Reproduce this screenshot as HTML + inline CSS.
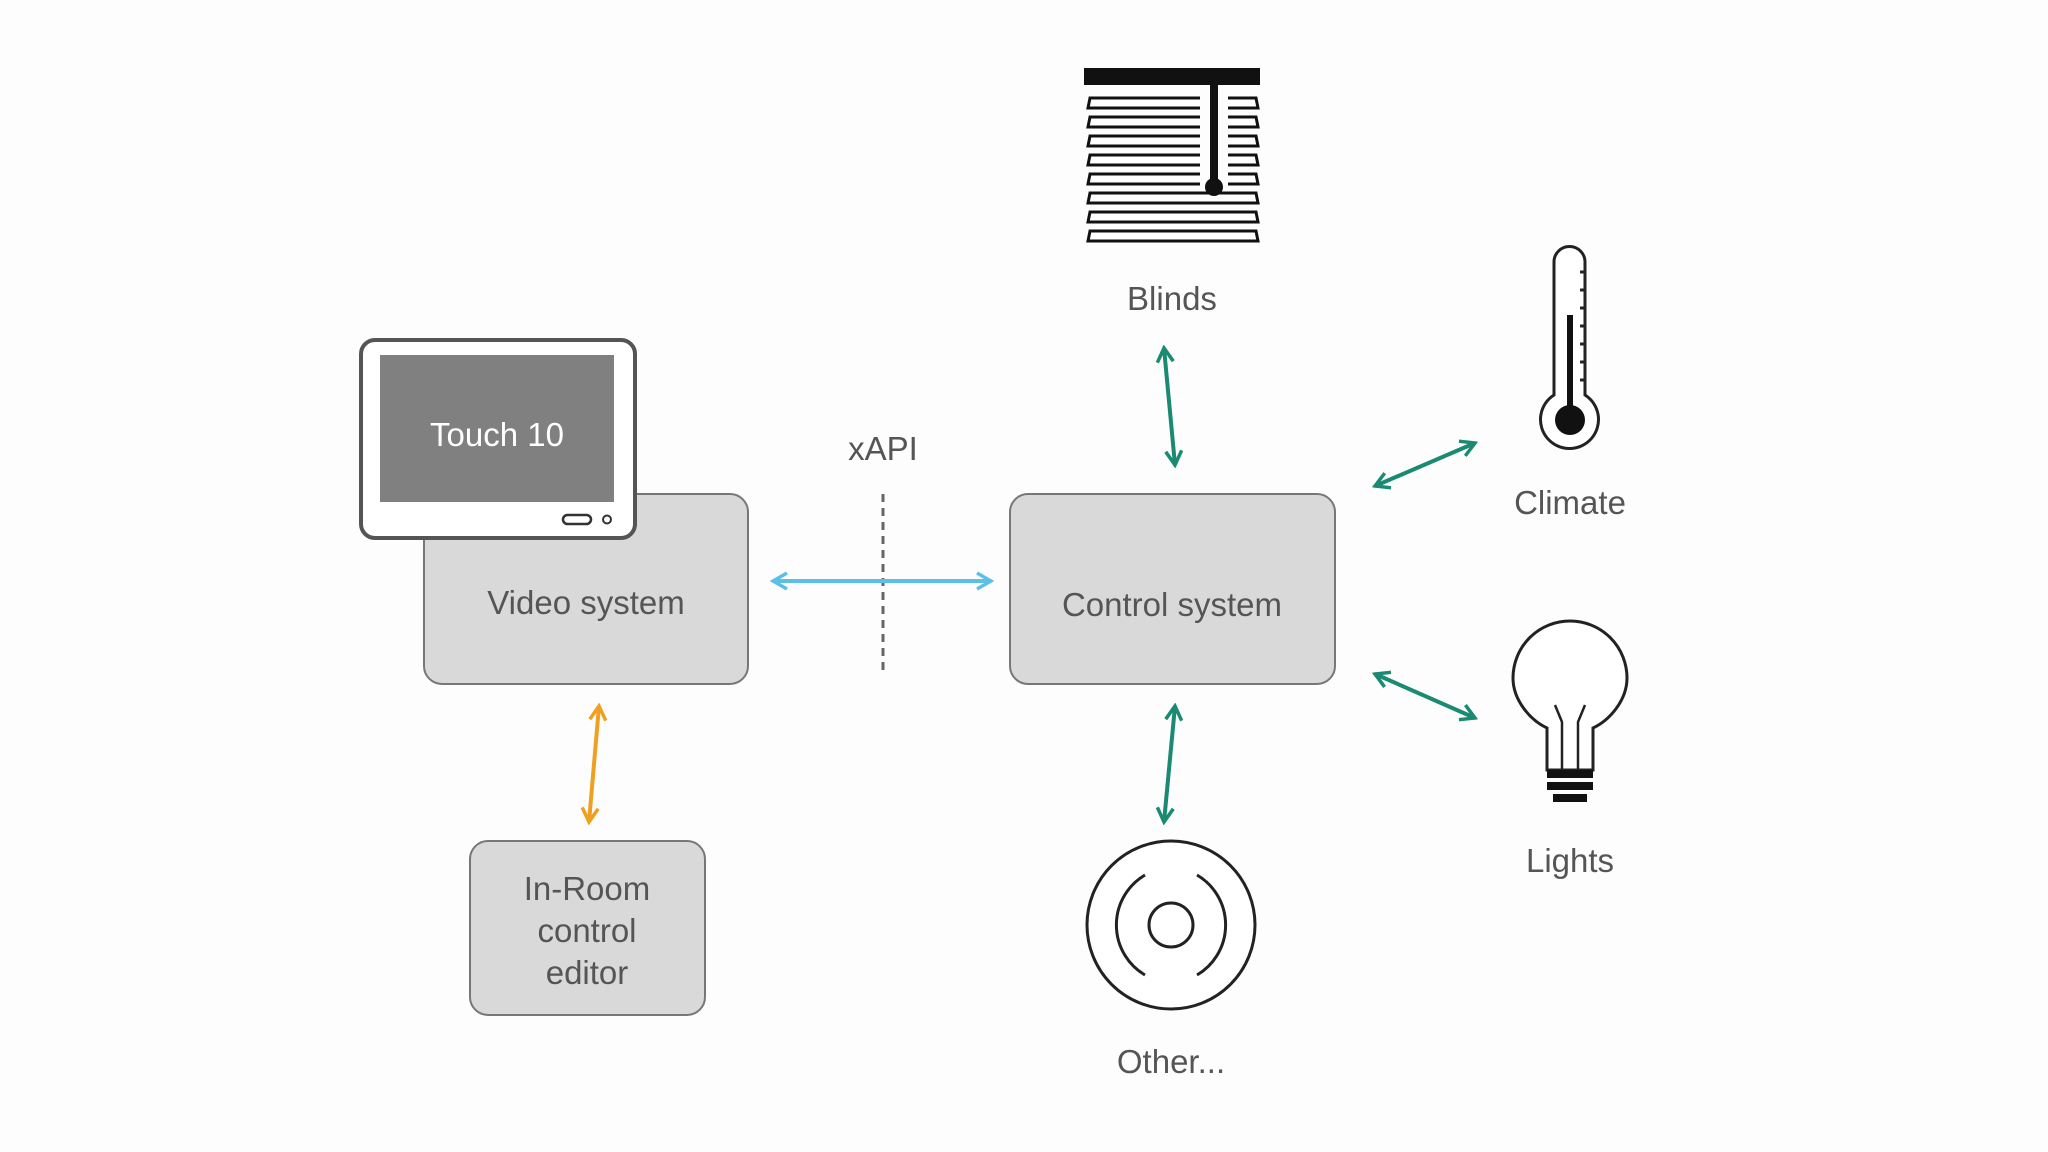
<!DOCTYPE html>
<html><head><style>
html,body{margin:0;padding:0;background:#fdfdfd;}
svg{display:block}
text{font-family:"Liberation Sans",sans-serif;fill:#555;font-size:33px;text-anchor:middle}
</style></head><body>
<svg width="2048" height="1152" viewBox="0 0 2048 1152" xmlns="http://www.w3.org/2000/svg">
<defs>
<marker id="ag" viewBox="0 0 20 20" refX="17" refY="10" markerWidth="20" markerHeight="20" markerUnits="userSpaceOnUse" orient="auto-start-reverse"><path d="M3,2 L17,10 L3,18" fill="none" stroke="#1a8a72" stroke-width="3.5"/></marker>
<marker id="ab" viewBox="0 0 20 20" refX="17" refY="10" markerWidth="20" markerHeight="20" markerUnits="userSpaceOnUse" orient="auto-start-reverse"><path d="M3,2 L17,10 L3,18" fill="none" stroke="#5bc0e8" stroke-width="3.5"/></marker>
<marker id="ao" viewBox="0 0 20 20" refX="17" refY="10" markerWidth="20" markerHeight="20" markerUnits="userSpaceOnUse" orient="auto-start-reverse"><path d="M3,2 L17,10 L3,18" fill="none" stroke="#f0a020" stroke-width="3.5"/></marker>
</defs>
<!-- boxes -->
<rect x="424" y="494" width="324" height="190" rx="18" fill="#d9d9d9" stroke="#777" stroke-width="2"/>
<text x="586" y="614">Video system</text>
<rect x="1010" y="494" width="325" height="190" rx="18" fill="#d9d9d9" stroke="#777" stroke-width="2"/>
<text x="1172" y="616">Control system</text>
<rect x="470" y="841" width="235" height="174" rx="18" fill="#d9d9d9" stroke="#777" stroke-width="2"/>
<text x="587" y="900">In-Room</text>
<text x="587" y="942">control</text>
<text x="587" y="984">editor</text>
<!-- Touch 10 -->
<rect x="361" y="340" width="274" height="198" rx="14" fill="#fff" stroke="#555" stroke-width="4"/>
<rect x="380" y="355" width="234" height="147" fill="#808080"/>
<text x="497" y="446" style="fill:#fff">Touch 10</text>
<rect x="563" y="515" width="28" height="9" rx="4.5" fill="none" stroke="#333" stroke-width="2.5"/>
<circle cx="607" cy="519.5" r="4" fill="none" stroke="#333" stroke-width="2"/>
<!-- xAPI -->
<text x="883" y="460">xAPI</text>
<line x1="883" y1="494" x2="883" y2="673" stroke="#666" stroke-width="3" stroke-dasharray="8,6"/>
<line x1="773" y1="581" x2="991" y2="581" stroke="#5bc0e8" stroke-width="4" marker-start="url(#ab)" marker-end="url(#ab)"/>
<line x1="599" y1="706" x2="589" y2="822" stroke="#f0a020" stroke-width="4" marker-start="url(#ao)" marker-end="url(#ao)"/>
<line x1="1164" y1="348" x2="1175" y2="465" stroke="#1a8a72" stroke-width="4" marker-start="url(#ag)" marker-end="url(#ag)"/>
<line x1="1175" y1="706" x2="1164" y2="822" stroke="#1a8a72" stroke-width="4" marker-start="url(#ag)" marker-end="url(#ag)"/>
<line x1="1375" y1="486" x2="1475" y2="443" stroke="#1a8a72" stroke-width="4" marker-start="url(#ag)" marker-end="url(#ag)"/>
<line x1="1375" y1="674" x2="1475" y2="718" stroke="#1a8a72" stroke-width="4" marker-start="url(#ag)" marker-end="url(#ag)"/>
<!-- Blinds -->
<rect x="1084" y="68" width="176" height="17" fill="#111"/>
<g fill="#fff" stroke="#111" stroke-width="3">
<path d="M1090,98 L1256,98 L1258,108 L1088,108 Z"/>
<path d="M1090,117 L1256,117 L1258,127 L1088,127 Z"/>
<path d="M1090,136 L1256,136 L1258,146 L1088,146 Z"/>
<path d="M1090,155 L1256,155 L1258,165 L1088,165 Z"/>
<path d="M1090,174 L1256,174 L1258,184 L1088,184 Z"/>
<path d="M1090,193 L1256,193 L1258,203 L1088,203 Z"/>
<path d="M1090,212 L1256,212 L1258,222 L1088,222 Z"/>
<path d="M1090,231 L1256,231 L1258,241 L1088,241 Z"/>
</g>
<rect x="1200" y="85" width="28" height="105" fill="#fdfdfd"/>
<rect x="1210" y="85" width="8" height="100" fill="#111"/>
<circle cx="1214" cy="187" r="9" fill="#111"/>
<text x="1172" y="310">Blinds</text>
<!-- Thermometer -->
<path d="M1554,262 A15.5,15.5 0 0 1 1585,262 L1585,395 A29,29 0 1 1 1554,395 Z" fill="#fff" stroke="#222" stroke-width="3"/>
<rect x="1567" y="315" width="6" height="95" fill="#111"/>
<circle cx="1570" cy="420" r="15" fill="#111"/>
<g stroke="#222" stroke-width="3"><line x1="1580" y1="272" x2="1585" y2="272"/><line x1="1580" y1="290" x2="1585" y2="290"/><line x1="1580" y1="308" x2="1585" y2="308"/><line x1="1580" y1="326" x2="1585" y2="326"/><line x1="1580" y1="344" x2="1585" y2="344"/><line x1="1580" y1="362" x2="1585" y2="362"/><line x1="1580" y1="380" x2="1585" y2="380"/></g>
<text x="1570" y="514">Climate</text>
<!-- Bulb -->
<path d="M1547,770 L1547,728 C1530,720 1513,700 1513,678 A57,57 0 1 1 1627,678 C1627,700 1610,720 1593,728 L1593,770 Z" fill="#fff" stroke="#222" stroke-width="3"/>
<path d="M1555,705 L1562,722 L1562,770 M1585,705 L1578,722 L1578,770" fill="none" stroke="#222" stroke-width="2.5"/>
<rect x="1547" y="770" width="46" height="8" fill="#111"/>
<rect x="1547" y="782" width="46" height="8" fill="#111"/>
<rect x="1553" y="794" width="34" height="8" fill="#111"/>
<text x="1570" y="872">Lights</text>
<!-- Other -->
<circle cx="1171" cy="925" r="84" fill="#fff" stroke="#222" stroke-width="3"/>
<circle cx="1171" cy="925" r="22" fill="#fff" stroke="#222" stroke-width="3"/>
<path d="M1145,875 A58,58 0 0 0 1145,975 M1197,875 A58,58 0 0 1 1197,975" fill="none" stroke="#222" stroke-width="3"/>
<text x="1171" y="1073">Other...</text>
</svg>
</body></html>
